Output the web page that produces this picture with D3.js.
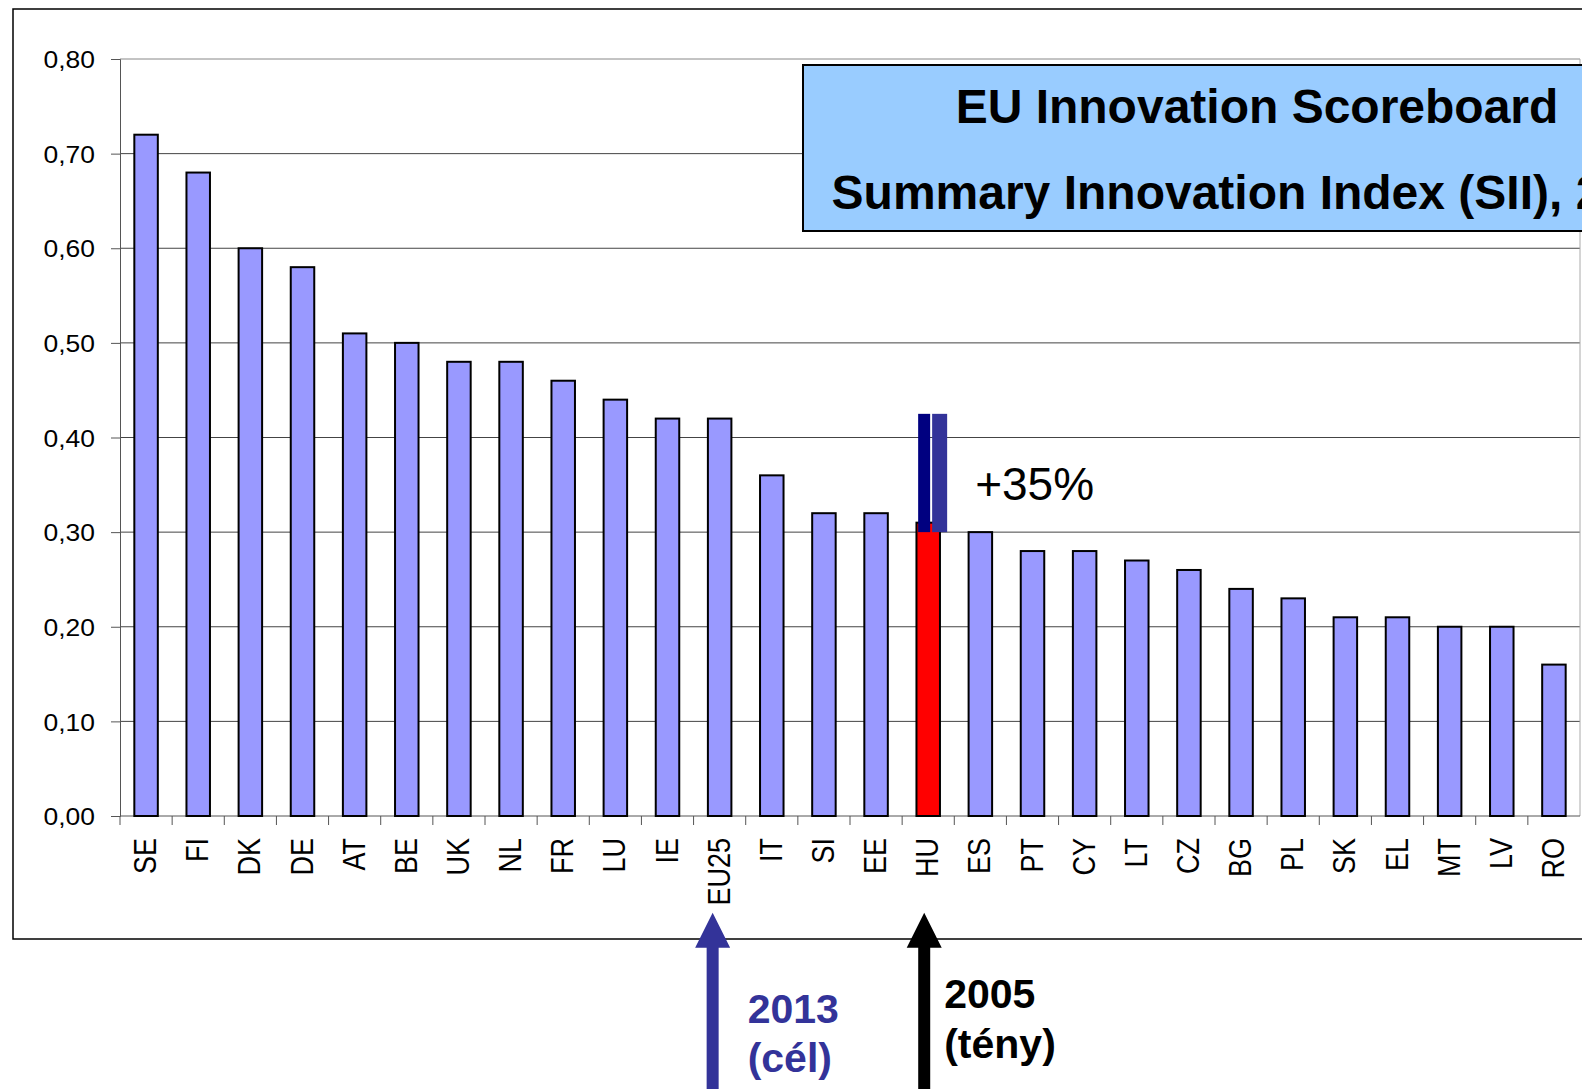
<!DOCTYPE html>
<html>
<head>
<meta charset="utf-8">
<script src="https://cdn.jsdelivr.net/npm/d3@7"></script>
<style>
  body { margin: 0; background: #fff; }
  svg { display: block; font-family: "Liberation Sans", Arial, sans-serif; }
</style>
</head>
<body>
<div id="chart"></div>
<script>

// data
var countries = ["SE", "FI", "DK", "DE", "AT", "BE", "UK", "NL", "FR", "LU", "IE", "EU25", "IT", "SI",
                 "EE", "HU", "ES", "PT", "CY", "LT", "CZ", "BG", "PL", "SK", "EL", "MT", "LV", "RO"];
var sii2005 = [0.72, 0.68, 0.60, 0.58, 0.51, 0.50, 0.48, 0.48, 0.46, 0.44, 0.42, 0.42, 0.36, 0.32,
               0.32, 0.31, 0.30, 0.28, 0.28, 0.27, 0.26, 0.24, 0.23, 0.21, 0.21, 0.20, 0.20, 0.16];
var yTicks = [0, 0.1, 0.2, 0.3, 0.4, 0.5, 0.6, 0.7, 0.8];
var highlight = "HU";
var reference = "EU25";
var huTarget = 0.425;      // top of the 2013 target marker
var huMarkerBase = 0.30;   // bottom of the marker
var growthLabel = "+35%";
var titleLines = ["EU Innovation Scoreboard", "Summary Innovation Index (SII), 2005"];
var targetLabel = ["2013", "(cél)"];
var actualLabel = ["2005", "(tény)"];

var width = 1582, height = 1089;
var plot = {left: 120, right: 1580, top: 59, bottom: 816};

var svg = d3.select("#chart").append("svg")
  .attr("width", width)
  .attr("height", height);

var x = d3.scaleBand()
  .domain(countries)
  .range([plot.left, plot.right])
  .padding(0);

var y = d3.scaleLinear()
  .domain([0, 0.8])
  .range([plot.bottom, plot.top]);

var barW = 23.5;
var fmt = function(d) { return d3.format(".2f")(d).replace(".", ","); };

// outer frame of the slide chart
svg.append("rect")
  .attr("x", 13).attr("y", 9)
  .attr("width", 1700).attr("height", 930)
  .attr("fill", "none")
  .attr("stroke", "#000")
  .attr("stroke-width", 1.5);

// gridlines
svg.append("g")
  .selectAll("line")
  .data(yTicks.filter(function(d) { return d > 0; }))
  .enter().append("line")
    .attr("x1", plot.left).attr("x2", plot.right)
    .attr("y1", function(d) { return y(d); })
    .attr("y2", function(d) { return y(d); })
    .attr("stroke", function(d) { return d === 0.8 ? "#888" : "#444"; })
    .attr("stroke-width", 1);

// right border of plot
svg.append("line")
  .attr("x1", plot.right).attr("x2", plot.right)
  .attr("y1", plot.top).attr("y2", plot.bottom)
  .attr("stroke", "#aaa");

// y axis
var yAxis = svg.append("g")
  .attr("transform", "translate(" + plot.left + ",0)")
  .call(d3.axisLeft(y).tickValues(yTicks).tickSize(9).tickFormat(fmt));
yAxis.select(".domain").attr("stroke", "#555");
yAxis.selectAll(".tick line").attr("stroke", "#555");
yAxis.selectAll(".tick text")
  .attr("x", 0).attr("dy", null)
  .attr("dominant-baseline", "central")
  .attr("transform", "translate(-25,0) scale(1.08,1)")
  .attr("font-size", 24.5)
  .attr("font-family", "Liberation Sans, Arial, sans-serif")
  .attr("fill", "#000");

// x axis baseline and ticks between categories
svg.append("line")
  .attr("x1", plot.left).attr("x2", plot.right)
  .attr("y1", plot.bottom).attr("y2", plot.bottom)
  .attr("stroke", "#555");

svg.append("g")
  .selectAll("line")
  .data(countries)
  .enter().append("line")
    .attr("x1", function(d) { return x(d); })
    .attr("x2", function(d) { return x(d); })
    .attr("y1", plot.bottom).attr("y2", plot.bottom + 9)
    .attr("stroke", "#555");

svg.append("g")
  .selectAll("text")
  .data(countries)
  .enter().append("text")
    .attr("transform", function(d) {
      return "translate(" + (x(d) + x.bandwidth() / 2 + 10) + "," + (plot.bottom + 22) + ") scale(1.15,1) rotate(-90)";
    })
    .attr("text-anchor", "end")
    .attr("font-size", 27)
    .text(function(d) { return d; });

// bars
svg.append("g")
  .selectAll("rect")
  .data(countries)
  .enter().append("rect")
    .attr("x", function(d) { return x(d) + (x.bandwidth() - barW) / 2; })
    .attr("y", function(d, i) { return y(sii2005[i]); })
    .attr("width", barW)
    .attr("height", function(d, i) { return y(0) - y(sii2005[i]); })
    .attr("fill", function(d) { return d === highlight ? "#ff0000" : "#9999ff"; })
    .attr("stroke", "#000")
    .attr("stroke-width", 2);

// target marker above HU
var hx = x(highlight);
svg.append("rect")
  .attr("x", hx + 16).attr("y", y(huTarget))
  .attr("width", 12).attr("height", y(huMarkerBase) - y(huTarget))
  .attr("fill", "#000080");
svg.append("rect")
  .attr("x", hx + 30).attr("y", y(huTarget))
  .attr("width", 15).attr("height", y(huMarkerBase) - y(huTarget))
  .attr("fill", "#333399");

svg.append("text")
  .attr("x", hx + 73).attr("y", 500)
  .attr("font-size", 46)
  .text(growthLabel);

// title box
svg.append("rect")
  .attr("x", 803).attr("y", 65)
  .attr("width", 950).attr("height", 166)
  .attr("fill", "#99ccff")
  .attr("stroke", "#000")
  .attr("stroke-width", 2);

svg.selectAll(".title")
  .data(titleLines)
  .enter().append("text")
    .attr("class", "title")
    .attr("x", 1257)
    .attr("y", function(d, i) { return 123 + i * 86; })
    .attr("text-anchor", "middle")
    .attr("font-size", 48)
    .attr("font-weight", "bold")
    .text(function(d) { return d; });

// arrows under the axis
function arrow(cx, color) {
  var tip = 912.7, base = 947.7;
  svg.append("path")
    .attr("d", "M" + cx + "," + tip +
               "L" + (cx + 17.5) + "," + base +
               "L" + (cx + 6) + "," + base +
               "L" + (cx + 6) + "," + (height + 5) +
               "L" + (cx - 6) + "," + (height + 5) +
               "L" + (cx - 6) + "," + base +
               "L" + (cx - 17.5) + "," + base + "Z")
    .attr("fill", color);
}

var ex = x(reference) + x.bandwidth() / 2;
var hc = hx + x.bandwidth() / 2;
arrow(ex - 7, "#333399");
arrow(hc - 4, "#000");

svg.selectAll(".target")
  .data(targetLabel)
  .enter().append("text")
    .attr("class", "target")
    .attr("x", ex + 28)
    .attr("y", function(d, i) { return 1023 + i * 49; })
    .attr("font-size", 41)
    .attr("font-weight", "bold")
    .attr("fill", "#333399")
    .text(function(d) { return d; });

svg.selectAll(".actual")
  .data(actualLabel)
  .enter().append("text")
    .attr("class", "actual")
    .attr("x", hc + 16)
    .attr("y", function(d, i) { return 1008 + i * 50; })
    .attr("font-size", 41)
    .attr("font-weight", "bold")
    .attr("fill", "#000")
    .text(function(d) { return d; });

</script>
</body>
</html>
